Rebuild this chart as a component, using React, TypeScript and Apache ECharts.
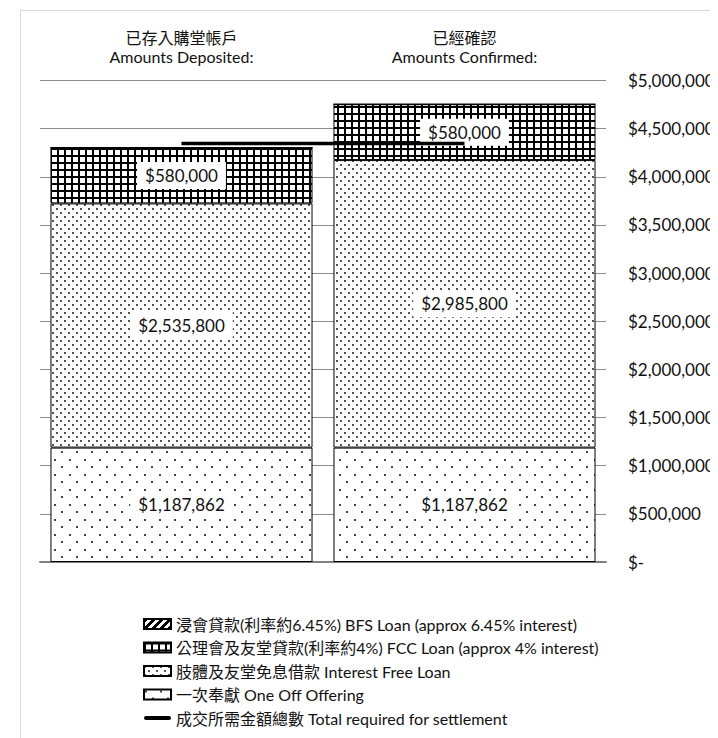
import React, { useEffect, useRef } from "react";
import * as echarts from "echarts";

const categoriesZh = ["已存入購堂帳戶", "已經確認"];
const categoriesEn = ["Amounts Deposited:", "Amounts Confirmed:"];

const nameBfs = "浸會貸款(利率約6.45%) BFS Loan (approx 6.45% interest)";
const nameFcc = "公理會及友堂貸款(利率約4%) FCC Loan (approx 4% interest)";
const nameFree = "肢體及友堂免息借款 Interest Free Loan";
const nameOneOff = "一次奉獻 One Off Offering";
const nameTotal = "成交所需金額總數 Total required for settlement";

const oneOffOffering = [1187862, 1187862];
const interestFreeLoan = [2535800, 2985800];
const fccLoan = [580000, 580000];
const bfsLoan = [0, 0];
const totalRequired = [4345000, 4345000];

const yMin = 0;
const yMax = 5000000;
const yInterval = 500000;

const FONT = 'Lato, "Noto Sans CJK TC", sans-serif';

function makePattern(w: number, h: number, draw: (ctx: CanvasRenderingContext2D) => void) {
  const c = document.createElement("canvas");
  c.width = w;
  c.height = h;
  const ctx = c.getContext("2d") as CanvasRenderingContext2D;
  ctx.fillStyle = "#ffffff";
  ctx.fillRect(0, 0, w, h);
  draw(ctx);
  return { image: c, repeat: "repeat", imageWidth: w, imageHeight: h } as any;
}

function money(v: number) {
  if (v === 0) return "$-";
  return "$" + v.toLocaleString("en-US");
}

export default function App() {
  const ref = useRef<HTMLDivElement>(null);

  useEffect(() => {
    if (!ref.current) return;
    const chart = echarts.init(ref.current, undefined, { renderer: "svg" });

    const oneOffPat = makePattern(15, 15, (ctx) => {
      ctx.fillStyle = "#444";
      ctx.fillRect(1, 1, 2, 2);
      ctx.fillRect(8, 8, 2, 2);
    });
    const freePat = makePattern(8, 8, (ctx) => {
      ctx.fillStyle = "#555";
      ctx.fillRect(0, 0, 2, 2);
      ctx.fillRect(4, 4, 2, 2);
    });
    const fccPat = makePattern(7, 7, (ctx) => {
      ctx.fillStyle = "#000";
      ctx.fillRect(0, 0, 7, 2);
      ctx.fillRect(0, 0, 2, 7);
    });
    const bfsPat = makePattern(8, 8, (ctx) => {
      ctx.fillStyle = "#000";
      for (let x = 0; x < 8; x++) {
        for (let y = 0; y < 8; y++) {
          if ((x + y) % 8 < 4) ctx.fillRect(x, y, 1, 1);
        }
      }
    });

    const labelStyle = {
      show: true,
      position: "inside",
      formatter: (p: any) => money(Number(p.value)),
      backgroundColor: "#ffffff",
      padding: [5, 8],
      fontSize: 17,
      fontFamily: FONT,
      color: "#111",
    };

    const barBase = {
      type: "bar",
      stack: "amounts",
      barWidth: "92.6%",
      xAxisIndex: 0,
      z: 2,
    };

    const lineIcon =
      "path://M2,0 L25,0 A2,2 0 0 1 25,4 L2,4 A2,2 0 0 1 2,0 Z";

    chart.setOption({
      animation: false,
      textStyle: { fontFamily: FONT },
      graphic: [
        {
          type: "rect",
          shape: { x: 12.5, y: 2.5, width: 900, height: 900 },
          style: { fill: "none", stroke: "#d9d9d9", lineWidth: 1 },
          silent: true,
          z: -10,
        },
      ],
      grid: { left: 32, right: 112, top: 72.5, bottom: 176 },
      legend: {
        orient: "vertical",
        left: 135,
        top: 608,
        height: 122,
        padding: 0,
        itemWidth: 27,
        itemHeight: 10,
        itemGap: 7.5,
        icon: "rect",
        textStyle: { fontSize: 16, fontFamily: FONT, color: "#111" },
        data: [
          { name: nameBfs },
          { name: nameFcc },
          { name: nameFree },
          { name: nameOneOff },
          { name: nameTotal, icon: lineIcon },
        ],
      },
      xAxis: [
        {
          type: "category",
          position: "bottom",
          data: categoriesZh,
          axisLine: { show: true, lineStyle: { color: "#808080", width: 2 } },
          axisTick: { show: false },
          axisLabel: { show: false },
        },
        {
          type: "category",
          position: "top",
          data: categoriesZh.map((z, i) => z + "\n" + categoriesEn[i]),
          axisLine: { show: false },
          axisTick: { show: false },
          axisLabel: {
            show: true,
            margin: 15,
            fontSize: 16,
            lineHeight: 19,
            fontFamily: FONT,
            color: "#111",
          },
        },
      ],
      yAxis: {
        type: "value",
        position: "right",
        min: yMin,
        max: yMax,
        interval: yInterval,
        axisLine: { show: false },
        axisTick: { show: false },
        splitLine: { show: true, lineStyle: { color: "#8c8c8c", width: 1 } },
        axisLabel: {
          margin: 22,
          fontSize: 17,
          fontFamily: FONT,
          color: "#111",
          formatter: (v: number) => money(v),
        },
      },
      series: [
        {
          ...barBase,
          name: nameOneOff,
          data: oneOffOffering,
          itemStyle: { color: oneOffPat, borderColor: "#000", borderWidth: 1 },
          label: labelStyle,
        },
        {
          ...barBase,
          name: nameFree,
          data: interestFreeLoan,
          itemStyle: { color: freePat, borderColor: "#000", borderWidth: 1 },
          label: labelStyle,
        },
        {
          ...barBase,
          name: nameFcc,
          data: fccLoan,
          itemStyle: { color: fccPat, borderColor: "#000", borderWidth: 1 },
          label: labelStyle,
        },
        {
          ...barBase,
          name: nameBfs,
          data: bfsLoan,
          itemStyle: { color: bfsPat, borderColor: "#000", borderWidth: 1 },
          label: { show: false },
        },
        {
          type: "line",
          name: nameTotal,
          data: totalRequired,
          xAxisIndex: 0,
          symbol: "none",
          z: 2,
          lineStyle: { color: "#000", width: 3.5 },
          itemStyle: { color: "#000" },
        },
      ],
    });

    return () => chart.dispose();
  }, []);

  return <div ref={ref} style={{ width: 710, height: 730 }} />;
}
